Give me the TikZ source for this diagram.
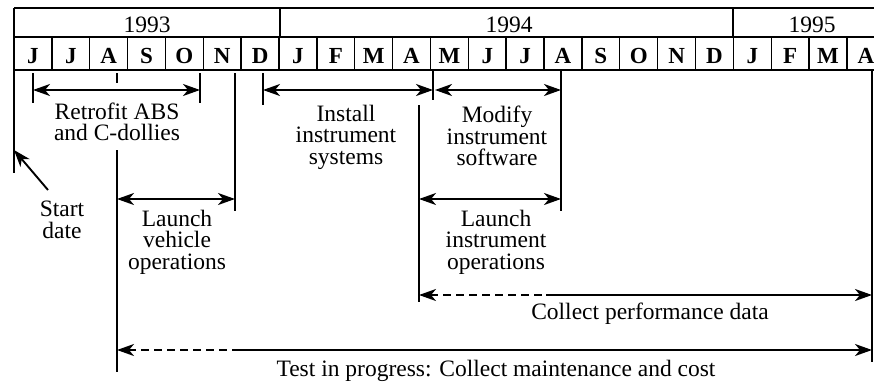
\documentclass[tikz,border=0pt]{standalone}
\usepackage{fontspec}
\setmainfont{Liberation Serif}
\usetikzlibrary{arrows.meta}

\begin{document}
\begin{tikzpicture}[x=1pt,y=-1pt,
    frame/.style={line width=1.4pt},
    tick/.style={line width=1.4pt},
    dur/.style={line width=1.9pt,{Stealth[length=17pt,width=12pt,inset=5pt]}-{Stealth[length=17pt,width=12pt,inset=5pt]}},
    tail/.style={line width=1.9pt,dashed,dash pattern=on 8pt off 5pt,{Stealth[length=17pt,width=12pt,inset=5pt]}-},
    head/.style={line width=1.9pt,-{Stealth[length=17pt,width=12pt,inset=5pt]}},
    lbl/.style={align=center,inner sep=0pt,font=\fontsize{23.5}{21.5}\selectfont},
    yr/.style={inner sep=0pt,anchor=base,font=\fontsize{23.5}{23.5}\selectfont},
    mon/.style={inner sep=0pt,anchor=base,font=\fontsize{23}{23}\selectfont\bfseries}]
    \useasboundingbox (0,0) rectangle (874,383);
    % calendar
    \draw[frame] (14,8) -- (886,8) (14,37) -- (886,37) (14,70) -- (886,70);
    \draw[frame] (14,8) -- (14,173) (280,8) -- (280,37) (733,8) -- (733,37);
    \node[yr] (y93) at (147,32.5) {1993};
    \node[yr] (y94) at (509,32.5) {1994};
    \node[yr] (y95) at (812,32.5) {1995};
    \foreach \m [count=\i from 0] in {J,J,A,S,O,N,D,J,F,M,A,M,J,J,A,S,O,N,D,J,F,M,A} {
        \node[mon] (m\i) at ({14+(\i+0.5)*37.86},63) {\m};
        \draw[frame] ({14+(\i+1)*37.86},37) -- ++(0,33);
    }
    % start
    \coordinate (st0) at (14,150);
    \coordinate (st1) at (48,190);
    \draw[head] (st1) -- (st0);
    \node[lbl] (start) at (62,220) {Start\\date};
    % retrofit
    \coordinate (rf0) at (33,90);
    \coordinate (rf1) at (200,90);
    \draw[tick] (33,73) -- (33,103) (200,73) -- (200,103) (117,73) -- (117,83);
    \draw[dur] (rf0) -- (rf1);
    \node[lbl] (retrofit) at (117,122) {Retrofit ABS\\and C-dollies};
    % launch vehicle
    \coordinate (lv0) at (117,199);
    \coordinate (lv1) at (235,199);
    \draw[tick] (117,150) -- (117,372) (235,73) -- (235,211);
    \draw[dur] (lv0) -- (lv1);
    \node[lbl] (launchveh) at (177,242) {Launch\\vehicle\\operations};
    % install
    \coordinate (in0) at (263,90);
    \coordinate (in1) at (433,90);
    \draw[tick] (263,73) -- (263,105) (433,70) -- (433,100);
    \draw[dur] (in0) -- (in1);
    \node[lbl] (install) at (346,137) {Install\\instrument\\systems};
    % modify
    \coordinate (md0) at (435,90);
    \coordinate (md1) at (561,90);
    \draw[tick] (561,70) -- (561,211) (419,105) -- (419,302);
    \draw[dur] (md0) -- (md1);
    \node[lbl] (modify) at (497,136) {Modify\\instrument\\software};
    % launch instrument
    \coordinate (li0) at (419,199);
    \coordinate (li1) at (561,199);
    \draw[dur] (li0) -- (li1);
    \node[lbl] (launchins) at (496,242) {Launch\\instrument\\operations};
    % collect performance data
    \coordinate (cp0) at (419,295);
    \coordinate (cpm) at (546,295);
    \coordinate (cp1) at (872,295);
    \draw[tick] (872,70) -- (872,362);
    \draw[tail] (cp0) -- (cpm);
    \draw[head] (cpm) -- (cp1);
    \node[lbl] (perf) at (650,314) {Collect performance data};
    % test in progress
    \coordinate (tp0) at (117,350);
    \coordinate (tpm) at (236,350);
    \coordinate (tp1) at (872,350);
    \draw[tail] (tp0) -- (tpm);
    \draw[head] (tpm) -- (tp1);
    \node[lbl] (test) at (496,371) {Test in progress: Collect maintenance and cost};
\end{tikzpicture}
\end{document}
